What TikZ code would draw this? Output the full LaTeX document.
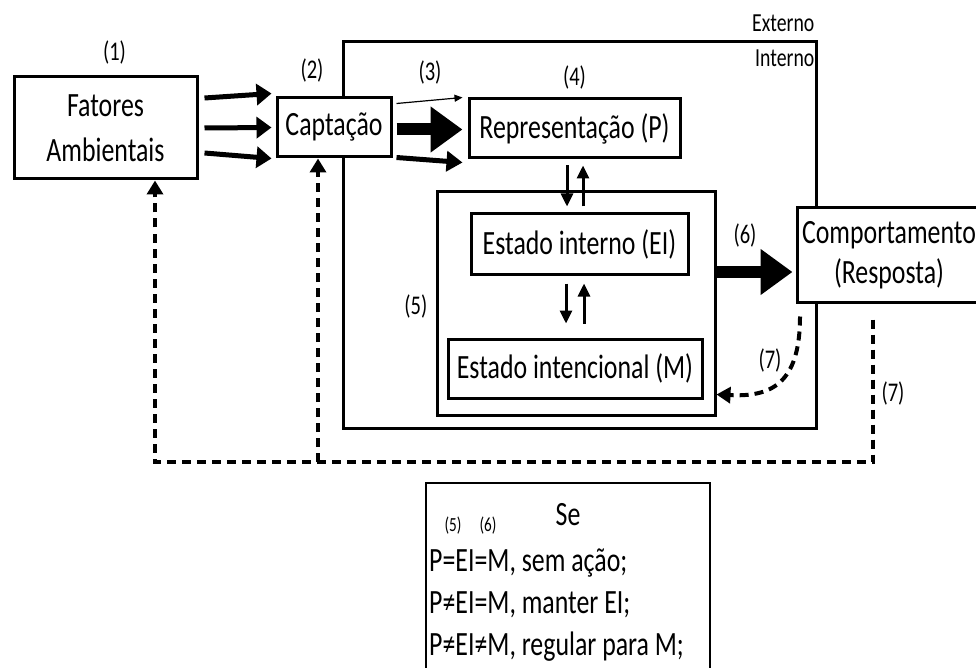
\documentclass[tikz,border=0pt]{standalone}
\usepackage{fontspec}
\setmainfont{Carlito}[FakeStretch=0.76]
\usetikzlibrary{arrows.meta,positioning,calc}
\newcommand{\corpo}{\fontsize{34}{42}\selectfont}
\newcommand{\rotfont}{\fontsize{27}{30}\selectfont}
\newcommand{\minifont}{\fontsize{20}{22}\selectfont}
\tikzset{
    %Define standard arrow tip
    >={Triangle[length=15pt,width=21pt]},
    %Define style for boxes
    caixa/.style={
           rectangle,
           draw=black, line width=3pt,
           inner sep=0pt,
           align=center,
           font=\corpo},
    %Define style for the numbers
    rotulo/.style={font=\rotfont, inner sep=0pt},
    % Define arrow styles
    setafina/.style={->, line width=1.2pt, >={Triangle[length=8pt,width=7pt]}},
    setamedia/.style={->, line width=5pt},
    setagrossa/.style={->, line width=12pt, >={Triangle[length=32pt,width=44pt]}},
    setapar/.style={->, line width=3pt, >={Triangle[length=13pt,width=12pt]}},
    tracejado/.style={->, line width=4pt, dash pattern=on 9pt off 6pt,
           >={Triangle[length=14pt,width=16pt]}}
}
\begin{document}
\begin{tikzpicture}[x=1pt, y=-1pt]
         \useasboundingbox (0,0) rectangle (976,668);
         %boxes
          \node[caixa, minimum width=473pt, minimum height=386pt] (interno) at (579.5,235) {};
          \node[caixa, minimum width=278pt, minimum height=223pt] (reg) at (576,303.5) {};
          \node[caixa, minimum width=183pt, minimum height=102pt, font=\fontsize{34}{45}\selectfont] (fat) at (105.5,128) {Fatores\\Ambientais};
          \node[caixa, fill=white, minimum width=114pt, minimum height=59pt] (capt) at (334,127.5) {Captação};
          \node[caixa, minimum width=211pt, minimum height=59pt] (rep) at (574.5,128.5) {Representação (P)};
          \node[caixa, minimum width=217pt, minimum height=60pt] (ei) at (579.5,244) {Estado interno (EI)};
          \node[caixa, minimum width=254pt, minimum height=59pt] (m) at (575,368.5) {Estado intencional (M)};
          \node[caixa, fill=white, minimum width=184pt, minimum height=94pt, font=\fontsize{34}{40}\selectfont] (comp) at (889,255) {Comportamento\\(Resposta)};
         %labels
          \node[rotulo, above=11pt of fat, xshift=9pt] {(1)};
          \node[rotulo, above=14pt of capt, xshift=-22pt] {(2)};
          \node[rotulo] at (430,72) {(3)};
          \node[rotulo, above=8pt of rep] {(4)};
          \node[rotulo, left=8pt of reg, yshift=-3pt] {(5)};
          \node[rotulo] at (745,235) {(6)};
          \node[rotulo] at (770,360) {(7)};
          \node[rotulo] at (893,393) {(7)};
          \node[rotulo, font=\fontsize{26}{28}\selectfont, anchor=base east] at ([shift={(-3pt,9pt)}]interno.north east) {Externo};
          \node[rotulo, font=\fontsize{26}{28}\selectfont, anchor=base east] at ([shift={(-3pt,-26pt)}]interno.north east) {Interno};
         %arrows
          \draw[setamedia] ([shift={(6pt,30pt)}]fat.east) -- ([shift={(-4pt,34pt)}]capt.west);
          \draw[setamedia] ([xshift=6pt]fat.east) -- ([xshift=-4pt]capt.west);
          \draw[setamedia] ([shift={(6pt,-25pt)}]fat.east) -- ([shift={(-4pt,-31pt)}]capt.west);
          \draw[setafina] ([shift={(4pt,24pt)}]capt.east) -- ([shift={(-5pt,31pt)}]rep.west);
          \draw[setagrossa] ([shift={(4pt,-2pt)}]capt.east) -- ([shift={(-5pt,-1pt)}]rep.west);
          \draw[setamedia, >={Triangle[length=16pt,width=20pt]}] ([shift={(4pt,-30pt)}]capt.east) -- ([shift={(-5pt,-34pt)}]rep.west);
          \draw[setapar] ([shift={(-7.5pt,-6pt)}]rep.south) -- ([shift={(-9pt,-16pt)}]reg.north);
          \draw[setapar] ([shift={(7pt,-16pt)}]reg.north) -- ([shift={(8.5pt,-6pt)}]rep.south);
          \draw[setapar] ([shift={(-13.5pt,-8pt)}]ei.south) -- ([shift={(-9pt,14pt)}]m.north);
          \draw[setapar] ([shift={(9pt,14pt)}]m.north) -- ([shift={(4.5pt,-8pt)}]ei.south);
          \draw[setagrossa] (reg.east |- 0,272) -- ([shift={(-3pt,-17pt)}]comp.west);
         %feedback
          \coordinate (k7) at ([shift={(-89pt,-13pt)}]comp.south);
          \coordinate (fb) at (155,462);
          \coordinate (fbm) at (318,462);
          \draw[tracejado] (k7) .. controls (800,385) and (770,397) .. ([yshift=22pt]reg.south east);
          \draw[tracejado] ([shift={(-16pt,-16pt)}]comp.south) |- (fb) -- (fat.south -| fb);
          \draw[tracejado] (fbm) -- (capt.south -| fbm);
         %rules
          \node[draw, line width=2pt, anchor=north west, minimum width=284pt, minimum height=220pt, inner sep=0pt] (quadro) at (425,482) {};
          \node[font=\corpo, inner sep=0pt] (se) at (568,515) {Se};
          \node[font=\minifont, inner sep=0pt] at (453,526) {(5)};
          \node[font=\minifont, inner sep=0pt] at (488,526) {(6)};
          \node[font=\corpo, align=left, anchor=north west, inner sep=0pt] (regras) at (429,549)
          {P=EI=M, sem ação;\\P≠EI=M, manter EI;\\P≠EI≠M, regular para M;};
        \end{tikzpicture}
\end{document}
